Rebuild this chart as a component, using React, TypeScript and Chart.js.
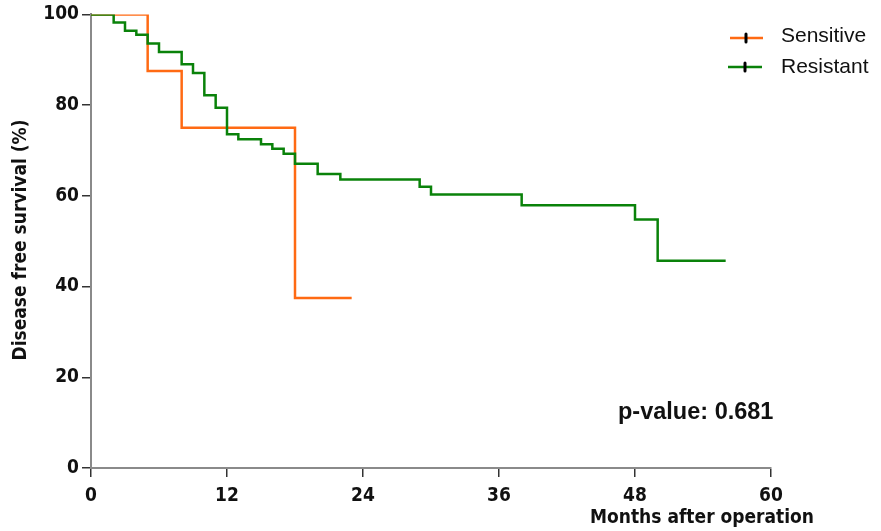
import React, { useEffect, useRef } from "react";
import { Chart, registerables } from "chart.js";

Chart.register(...registerables);

// Kaplan-Meier step data (months, survival %)
const resistantTimes = [0, 2, 3, 4, 5, 6, 8, 9, 10, 11, 12, 13, 15, 16, 17, 18, 20, 22, 29, 30, 38, 48, 50, 56];
const resistantSurvival = [100, 98.2, 96.4, 95.5, 93.6, 91.7, 89.0, 87.1, 82.2, 79.4, 73.6, 72.5, 71.4, 70.4, 69.3, 67.1, 64.8, 63.6, 62.0, 60.3, 57.9, 54.8, 45.7, 45.7];
const sensitiveTimes = [0, 5, 8, 18, 23];
const sensitiveSurvival = [100, 87.5, 75, 37.5, 37.5];

const seriesNames = ["Sensitive", "Resistant"];
const seriesColors = ["#ff6a13", "#0a820a"];
const xTicks = [0, 12, 24, 36, 48, 60];
const yTicks = [0, 20, 40, 60, 80, 100];
const xTitle = "Months after operation";
const yTitle = "Disease free survival (%)";
const pValueText = "p-value: 0.681";

const TICK_FONT = "'DejaVu Sans Condensed', 'DejaVu Sans', sans-serif";

const annotations = {
  id: "annotations",
  afterDraw(chart: any) {
    const ctx = chart.ctx;
    ctx.save();
    // Y title
    ctx.fillStyle = "#111";
    ctx.font = `bold 19px ${TICK_FONT}`;
    ctx.textAlign = "center";
    ctx.textBaseline = "middle";
    ctx.translate(21, 240);
    ctx.rotate(-Math.PI / 2);
    ctx.fillText(yTitle, 0, 0);
    ctx.restore();

    ctx.save();
    ctx.fillStyle = "#111";
    ctx.font = `bold 19px ${TICK_FONT}`;
    ctx.textAlign = "right";
    ctx.textBaseline = "alphabetic";
    ctx.fillText(xTitle, 814, 523);

    // p-value
    ctx.font = "bold 23.5px 'Liberation Sans', Arial, sans-serif";
    ctx.textAlign = "left";
    ctx.fillText(pValueText, 618, 419);

    // legend
    const rows = [
      { y: 38, x0: 730, x1: 763, mark: 746, ty: 36 },
      { y: 67, x0: 728, x1: 762, mark: 745, ty: 67 },
    ];
    rows.forEach((r, i) => {
      ctx.strokeStyle = seriesColors[i];
      ctx.lineWidth = 2.5;
      ctx.beginPath();
      ctx.moveTo(r.x0, r.y);
      ctx.lineTo(r.x1, r.y);
      ctx.stroke();
      ctx.strokeStyle = "#000";
      ctx.lineWidth = 3;
      ctx.lineCap = "round";
      ctx.beginPath();
      ctx.moveTo(r.mark, r.y - 4);
      ctx.lineTo(r.mark, r.y + 4);
      ctx.stroke();
      ctx.lineCap = "butt";
      ctx.fillStyle = "#111";
      ctx.font = "21px 'Liberation Sans', Arial, sans-serif";
      ctx.textBaseline = "middle";
      ctx.fillText(seriesNames[i], 781, r.ty);
    });
    ctx.restore();
  },
};

export default function App() {
  const ref = useRef<HTMLCanvasElement | null>(null);
  useEffect(() => {
    if (!ref.current) return;
    const chart = new Chart(ref.current, {
      type: "line",
      data: {
        datasets: [
          {
            label: seriesNames[1],
            data: resistantTimes.map((t, i) => ({ x: t, y: resistantSurvival[i] })),
            borderColor: seriesColors[1],
            borderWidth: 2.5,
            stepped: "before",
            pointRadius: 0,
            fill: false,
          },
          {
            label: seriesNames[0],
            data: sensitiveTimes.map((t, i) => ({ x: t, y: sensitiveSurvival[i] })),
            borderColor: seriesColors[0],
            borderWidth: 2.5,
            stepped: "before",
            pointRadius: 0,
            fill: false,
          },
        ],
      },
      options: {
        responsive: false,
        animation: false,
        devicePixelRatio: 1,
        layout: { padding: { top: 14, right: 110, left: 0, bottom: 0 } },
        plugins: { legend: { display: false }, tooltip: { enabled: false } },
        scales: {
          x: {
            type: "linear",
            min: 0,
            max: 60,
            afterFit: (s: any) => { s.height = 63; },
            afterBuildTicks: (s: any) => { s.ticks = xTicks.map((v) => ({ value: v })); },
            grid: { drawOnChartArea: false, drawTicks: true, tickLength: 9, color: "#333", lineWidth: 1.5 },
            border: { display: true, color: "#8a8a8a", width: 2 },
            ticks: { color: "#111", font: { family: TICK_FONT, size: 19, weight: "bold" }, padding: 8, maxRotation: 0 },
          },
          y: {
            min: 0,
            max: 100,
            afterFit: (s: any) => { s.width = 91; },
            afterBuildTicks: (s: any) => { s.ticks = yTicks.map((v) => ({ value: v })); },
            grid: { drawOnChartArea: false, drawTicks: true, tickLength: 9, color: "#333", lineWidth: 1.5 },
            border: { display: true, color: "#8a8a8a", width: 2 },
            ticks: { color: "#111", font: { family: TICK_FONT, size: 19, weight: "bold" }, padding: 3 },
          },
        },
      },
      plugins: [annotations],
    } as any);
    return () => chart.destroy();
  }, []);
  return (
    <div style={{ position: "absolute", left: 0, top: 0, width: 881, height: 531, background: "#fff" }}>
      <canvas ref={ref} width={881} height={531} />
    </div>
  );
}
